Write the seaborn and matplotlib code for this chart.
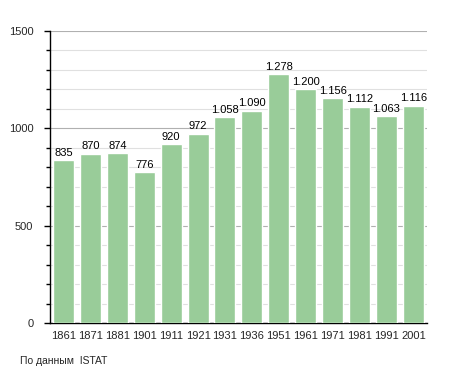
import numpy as np
import pandas as pd
import matplotlib
matplotlib.use("Agg")
import matplotlib.pyplot as plt
import seaborn as sns
from matplotlib.ticker import MultipleLocator

years = ["1861", "1871", "1881", "1901", "1911", "1921", "1931",
         "1936", "1951", "1961", "1971", "1981", "1991", "2001"]
population = [835, 870, 874, 776, 920, 972, 1058, 1090, 1278, 1200, 1156, 1112, 1063, 1116]
labels = ["835", "870", "874", "776", "920", "972", "1.058", "1.090",
          "1.278", "1.200", "1.156", "1.112", "1.063", "1.116"]

df = pd.DataFrame({"anno": years, "abitanti": population})

sns.set_style("white")
plt.rcParams['font.family'] = ['Liberation Sans', 'DejaVu Sans']

fig = plt.figure(figsize=(4.55, 3.73), dpi=100)
ax = fig.add_axes([0.110, 0.134, 0.828, 0.783])

sns.barplot(data=df, x="anno", y="abitanti", color="#99cc99", saturation=1,
            width=0.78, ax=ax, zorder=3)

ax.set_xlim(-0.5, len(years) - 0.5)
ax.set_ylim(0, 1500)
ax.yaxis.set_major_locator(MultipleLocator(500))
ax.yaxis.set_minor_locator(MultipleLocator(100))
ax.grid(which="minor", axis="y", color="#e0e0e0", lw=0.8, zorder=0)
ax.grid(which="major", axis="y", color="#b0b0b0", lw=0.8, zorder=0)
ax.set_axisbelow(True)

for s in ["top", "right"]:
    ax.spines[s].set_visible(False)
ax.spines["left"].set_color("black")
ax.spines["bottom"].set_color("black")
ax.spines["left"].set_linewidth(1)
ax.spines["bottom"].set_linewidth(1)

ax.tick_params(axis="y", which="major", left=True, length=4, width=1, color="black",
               labelsize=8, pad=8)
ax.tick_params(axis="y", which="minor", left=True, length=3, width=1, color="black")
ax.tick_params(axis="x", bottom=False, labelsize=8, pad=2)
ax.set_xlabel("")
ax.set_ylabel("")

for i, (v, t) in enumerate(zip(population, labels)):
    ax.text(i, v + 12, t, ha="center", va="bottom", fontsize=8, color="black")

fig.text(0.045, 0.02, "По данным  ISTAT", fontsize=7.5, ha="left", va="bottom")

fig.savefig("out.png", dpi=100)
